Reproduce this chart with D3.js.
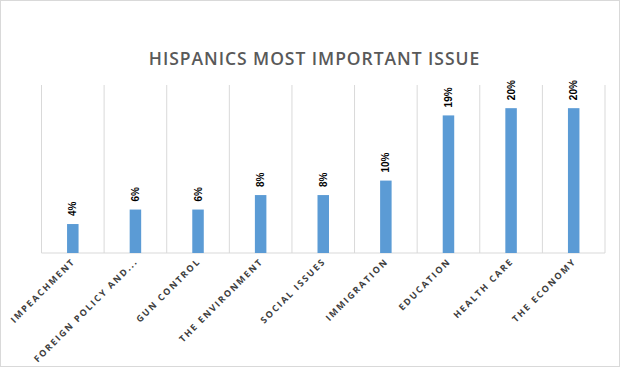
<!DOCTYPE html>
<html><head><meta charset="utf-8">
<script src="https://cdn.jsdelivr.net/npm/d3@7"></script>
<style>body{margin:0;background:#fff}svg{display:block}</style>
</head><body>
<svg id="c" width="620" height="367"></svg>
<script>
const categories = ["IMPEACHMENT","FOREIGN POLICY AND...","GUN CONTROL","THE ENVIRONMENT","SOCIAL ISSUES","IMMIGRATION","EDUCATION","HEALTH CARE","THE ECONOMY"];
const values = [4, 6, 6, 8, 8, 10, 19, 20, 20];
const valueLabels = ["4%","6%","6%","8%","8%","10%","19%","20%","20%"];
const title = "HISPANICS MOST IMPORTANT ISSUE";

const svg = d3.select("#c");
svg.append("rect").attr("x",0.5).attr("y",0.5).attr("width",619).attr("height",366)
  .attr("fill","#fff").attr("stroke","#d9d9d9");

const m = {l:41.5, r:605, t:85, b:253};
const x = d3.scaleBand().domain(categories).range([m.l, m.r]).paddingInner(0).paddingOuter(0);
const y = d3.scaleLinear().domain([0, 23.2]).range([m.b, m.t]);

svg.append("text").attr("x",314.5).attr("y",64.5).attr("text-anchor","middle")
  .attr("font-family","Open Sans, sans-serif").attr("font-size",17.5).attr("font-weight",600)
  .attr("letter-spacing","0.95px").attr("fill","#595959").text(title);

// vertical gridlines at band boundaries
const bounds = categories.map(c => x(c)).concat([m.r]);
svg.append("g").selectAll("line").data(bounds).join("line")
  .attr("x1",d=>d).attr("x2",d=>d).attr("y1",m.t).attr("y2",m.b)
  .attr("stroke","#d9d9d9").attr("stroke-width",1);

// axis
const ax = svg.append("g").attr("transform",`translate(0,${m.b})`).call(d3.axisBottom(x).tickSize(0).tickFormat(""));
ax.select(".domain").attr("stroke","#d9d9d9").attr("d",`M${m.l},0H${m.r}`);

const bw = 11.5;
svg.append("g").selectAll("rect").data(values).join("rect")
  .attr("x",(d,i)=>x(categories[i]) + x.bandwidth()/2 - bw/2)
  .attr("width",bw)
  .attr("y",d=>y(d)).attr("height",d=>y(0)-y(d))
  .attr("fill","#5b9bd5");

svg.append("g").selectAll("text").data(values).join("text")
  .attr("transform",(d,i)=>`translate(${x(categories[i]) + x.bandwidth()/2 + 3.5},${y(d)-8}) rotate(-90)`)
  .attr("font-family","Liberation Sans, Arial, sans-serif").attr("font-size",10).attr("font-weight","bold")
  .attr("fill","#000").text((d,i)=>valueLabels[i]);

svg.append("g").selectAll("text").data(categories).join("text")
  .attr("transform",c=>`translate(${x(c)+x.bandwidth()/2+3},${m.b+9}) rotate(-45)`)
  .attr("text-anchor","end")
  .attr("font-family","Open Sans, sans-serif").attr("font-size",9).attr("font-weight",700)
  .attr("letter-spacing","1.8px").attr("fill","#404040").text(c=>c);
</script>
</body></html>
